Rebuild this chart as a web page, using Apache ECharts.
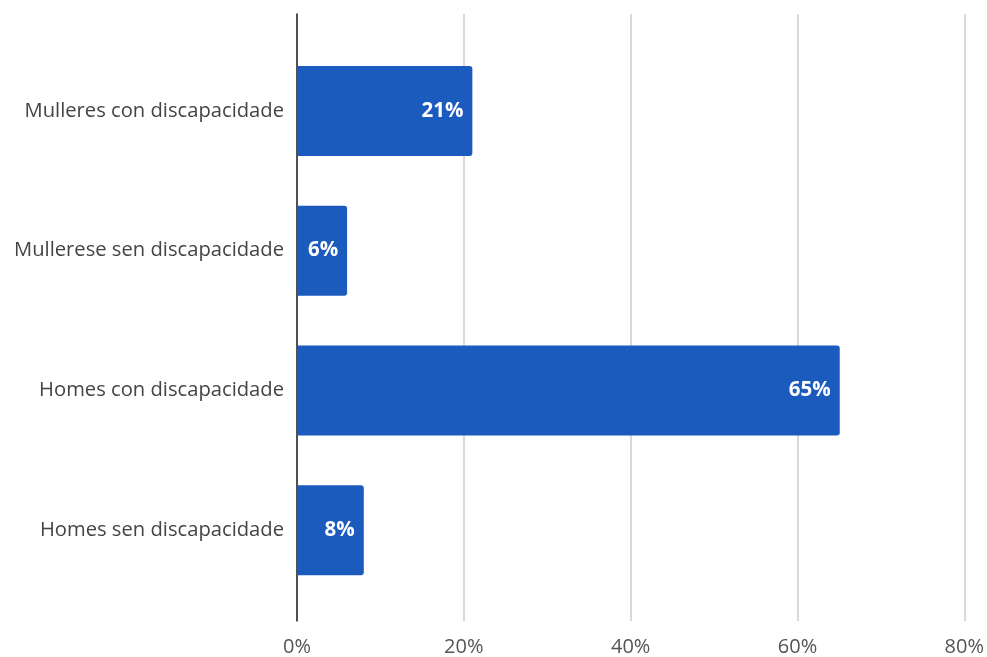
<!DOCTYPE html>
<html>
<head>
<meta charset="utf-8">
<script src="https://cdn.jsdelivr.net/npm/echarts@6/dist/echarts.min.js"></script>
<style>
  html, body { margin: 0; padding: 0; background: #ffffff; }
  #chart { width: 987px; height: 657px; }
</style>
</head>
<body>
<div id="chart"></div>
<script>
// Share of each group (percent)
const categories = [
  'Mulleres con discapacidade',
  'Mullerese sen discapacidade',
  'Homes con discapacidade',
  'Homes sen discapacidade'
];
const values = [21, 6, 65, 8];
const axisMax = 80;
const axisStep = 20;

const FONT = '"Open Sans", "Noto Sans", sans-serif';
const BAR = '#1b5bbd';

const chart = echarts.init(document.getElementById('chart'), null, { renderer: 'canvas' });

chart.setOption({
  animation: false,
  backgroundColor: '#ffffff',
  grid: [
    // frame grid: gridlines, x tick labels and the baseline
    { left: 297, right: 22, top: 14, bottom: 32 },
    // bar grid: the category bands sit inside the frame
    { left: 297, right: 22, top: 41, bottom: 57 }
  ],
  xAxis: [
    {
      gridIndex: 0,
      type: 'value',
      min: 0,
      max: axisMax,
      interval: axisStep,
      axisLine: { show: false },
      axisTick: { show: false },
      splitLine: { show: true, lineStyle: { color: '#cccccc', width: 1.5 } },
      axisLabel: {
        formatter: v => v + '%',
        color: '#555555',
        fontFamily: FONT,
        fontSize: 20,
        margin: 16
      }
    },
    {
      gridIndex: 1,
      type: 'value',
      min: 0,
      max: axisMax,
      show: false
    }
  ],
  yAxis: [
    {
      gridIndex: 0,
      type: 'value',
      min: 0,
      max: 1,
      axisLine: { show: true, onZero: false, lineStyle: { color: '#222222', width: 1.5 } },
      axisTick: { show: false },
      axisLabel: { show: false },
      splitLine: { show: false }
    },
    {
      gridIndex: 1,
      type: 'category',
      inverse: true,
      data: categories,
      axisLine: { show: false },
      axisTick: { show: false },
      axisLabel: {
        color: '#444444',
        fontFamily: FONT,
        fontSize: 20.2,
        margin: 13
      }
    }
  ],
  series: [
    {
      type: 'bar',
      xAxisIndex: 1,
      yAxisIndex: 1,
      data: values,
      barWidth: 90,
      itemStyle: { color: BAR, borderRadius: [0, 3, 3, 0] },
      label: {
        show: true,
        position: 'insideRight',
        distance: 9,
        formatter: p => Math.round(p.value) + '%',
        color: '#ffffff',
        fontFamily: FONT,
        fontWeight: 'bold',
        fontSize: 20.5
      }
    }
  ]
});
</script>
</body>
</html>
